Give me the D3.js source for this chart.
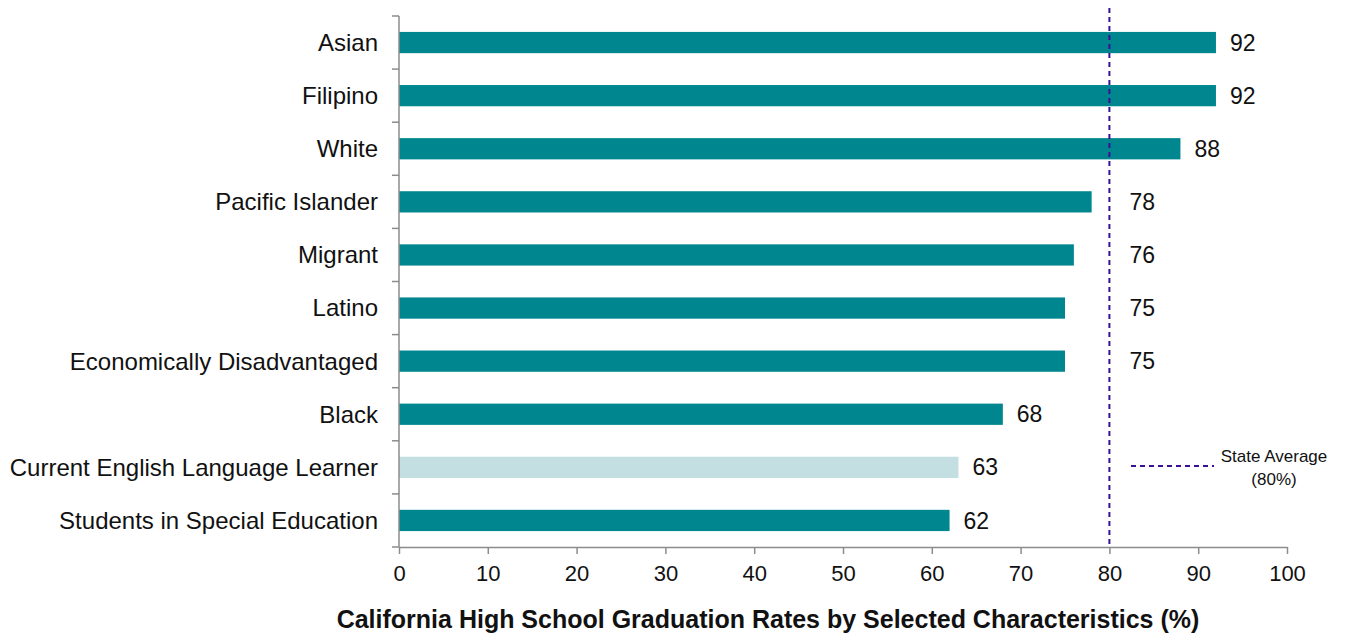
<!DOCTYPE html>
<html><head><meta charset="utf-8">
<script src="https://cdn.jsdelivr.net/npm/d3@7"></script>
<style>body{margin:0;background:#fff}svg{display:block}text{font-family:"Liberation Sans",Arial,sans-serif}</style>
</head><body>
<svg id="chart" width="1349" height="637"></svg>
<script>
const categories = ["Asian","Filipino","White","Pacific Islander","Migrant","Latino","Economically Disadvantaged","Black","Current English Language Learner","Students in Special Education"];
const values = [92,92,88,78,76,75,75,68,63,62];
const highlight = [false,false,false,false,false,false,false,false,true,false];
const xTicks = [0,10,20,30,40,50,60,70,80,90,100];
const stateAverage = 80;
const title = "California High School Graduation Rates by Selected Characteristics (%)";
const legendLines = ["State Average","(80%)"];

const svg = d3.select("#chart");
const m = {left:399, right:1287, top:16, bottom:547};
const x = d3.scaleLinear().domain([0,100]).range([m.left,m.right]);
const y = d3.scaleBand().domain(categories).range([m.top,m.bottom]).paddingInner(0.6).paddingOuter(0.3);
const band = d3.scaleBand().domain(categories).range([m.top,m.bottom]);

const data = categories.map((c,i)=>({c,v:values[i],h:highlight[i]}));

svg.append("g").selectAll("rect").data(data).join("rect")
  .attr("x",x(0)).attr("y",d=>y(d.c)).attr("height",y.bandwidth())
  .attr("width",d=>x(d.v)-x(0))
  .attr("fill",d=>d.h?"#c3dfe2":"#00868e");

const ya = svg.append("g");
ya.append("line").attr("x1",m.left).attr("x2",m.left).attr("y1",m.top).attr("y2",m.bottom).attr("stroke","#8c8c8c").attr("stroke-width",1.5);
const bounds = categories.map(c=>band(c)).concat([m.bottom]);
ya.selectAll("line.t").data(bounds).join("line").attr("class","t")
  .attr("x1",m.left-7).attr("x2",m.left).attr("y1",d=>d).attr("y2",d=>d)
  .attr("stroke","#8c8c8c").attr("stroke-width",1.5);
ya.selectAll("text").data(categories).join("text")
  .attr("x",378).attr("y",c=>band(c)+band.bandwidth()/2).attr("dy","0.35em")
  .attr("text-anchor","end").attr("font-size",24).attr("fill","#111").text(c=>c);

const xa = svg.append("g").attr("transform",`translate(0,${m.bottom})`)
  .call(d3.axisBottom(x).tickValues(xTicks).tickSize(7).tickPadding(11).tickSizeOuter(0));
xa.select(".domain").attr("stroke","#8c8c8c").attr("stroke-width",1.5);
xa.selectAll(".tick line").attr("stroke","#8c8c8c").attr("stroke-width",1.5);
xa.selectAll(".tick text").attr("font-size",22).attr("fill","#111").attr("font-family","Liberation Sans, Arial, sans-serif");

svg.append("line").attr("x1",x(stateAverage)).attr("x2",x(stateAverage)).attr("y1",8).attr("y2",m.bottom)
  .attr("stroke","#3b0f96").attr("stroke-width",2).attr("stroke-dasharray","5,4");

svg.append("g").selectAll("text").data(data).join("text")
  .attr("x",d=>{let px=x(d.v)+14; if(px<x(stateAverage) && px+34>x(stateAverage)) px=x(stateAverage)+20; return px;})
  .attr("y",d=>y(d.c)+y.bandwidth()/2).attr("dy","0.35em")
  .attr("font-size",23).attr("fill","#111").text(d=>d.v);

svg.append("line").attr("x1",1131).attr("x2",1214).attr("y1",466).attr("y2",466)
  .attr("stroke","#3b0f96").attr("stroke-width",2).attr("stroke-dasharray","5,4");
svg.append("text").attr("x",1274).attr("y",462).attr("text-anchor","middle").attr("font-size",17).attr("fill","#111").text(legendLines[0]);
svg.append("text").attr("x",1274).attr("y",485).attr("text-anchor","middle").attr("font-size",17).attr("fill","#111").text(legendLines[1]);

svg.append("text").attr("x",768).attr("y",628).attr("text-anchor","middle").attr("font-size",25).attr("font-weight","bold").attr("fill","#111").text(title);
</script>
</body></html>
